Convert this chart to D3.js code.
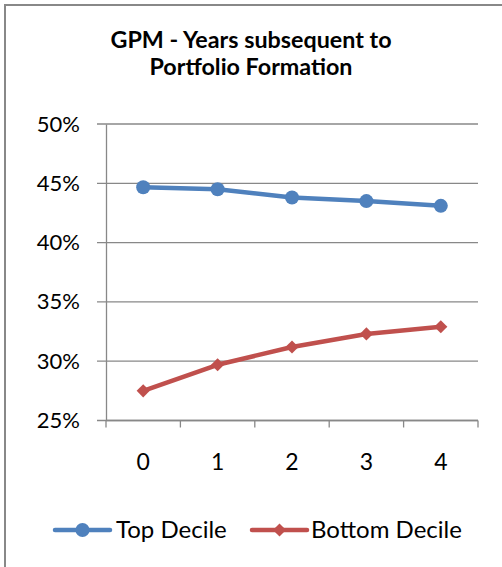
<!DOCTYPE html>
<html><head><meta charset="utf-8">
<script src="https://cdn.jsdelivr.net/npm/d3@7"></script>
<style>body{margin:0;background:#fff}svg{display:block}</style>
</head><body>
<svg id="c" width="502" height="567"></svg>
<script>
const categories = ["0","1","2","3","4"];
const topDecile = [0.4467, 0.4450, 0.4380, 0.4350, 0.4310];
const bottomDecile = [0.2750, 0.2970, 0.3120, 0.3230, 0.3290];
const yTicks = [0.25, 0.30, 0.35, 0.40, 0.45, 0.50];
const seriesNames = ["Top Decile", "Bottom Decile"];
const seriesColors = ["#4F81BD", "#C0504D"];
const titleLines = ["GPM - Years subsequent to", "Portfolio Formation"];

const svg = d3.select("#c");
const font = "Lato, 'Open Sans', sans-serif";

svg.append("rect").attr("x",5).attr("y",5).attr("width",520).attr("height",600)
  .attr("fill","#fff").attr("stroke","#888").attr("stroke-width",2);

const x = d3.scaleBand().domain(categories).range([106,478]);
const y = d3.scaleLinear().domain([0.25,0.50]).range([420.5,124]);

// title
svg.append("g").selectAll("text").data(titleLines).join("text")
  .attr("x",251).attr("y",(d,i)=>48+i*27).attr("text-anchor","middle")
  .attr("font-family",font).attr("font-weight","bold").attr("font-size",23.3)
  .attr("fill","#000").text(d=>d);

// gridlines
svg.append("g").selectAll("line").data(yTicks).join("line")
  .attr("x1",97).attr("x2",478).attr("y1",d=>y(d)).attr("y2",d=>y(d))
  .attr("stroke","#888").attr("stroke-width",1.3);

// y axis
const yAxis = d3.axisLeft(y).tickValues(yTicks).tickFormat(d3.format(".0%")).tickSize(0).tickPadding(26);
const gy = svg.append("g").attr("transform","translate(106,0)").call(yAxis);
gy.select(".domain").attr("stroke","#888").attr("stroke-width",1.3);
gy.selectAll("text").attr("font-family",font).attr("font-size",22).attr("fill","#000");

// x axis
const xAxis = d3.axisBottom(x).tickSize(0);
const gx = svg.append("g").attr("transform","translate(0,420.5)").call(xAxis);
gx.select(".domain").remove();
gx.selectAll("text").attr("y",49.5).attr("dy",0).attr("font-family",font).attr("font-size",23).attr("fill","#000");
const edges = categories.map(c=>x(c)).concat([x.range()[1]]);
gx.selectAll("line.edge").data(edges).join("line").attr("class","edge")
  .attr("x1",d=>d).attr("x2",d=>d).attr("y1",0).attr("y2",7)
  .attr("stroke","#888").attr("stroke-width",1.3);
gx.append("line").attr("x1",106).attr("x2",478).attr("y1",0).attr("y2",0)
  .attr("stroke","#888").attr("stroke-width",1.3);

const cx = d=>x(d)+x.bandwidth()/2;
const line = d3.line().x((d,i)=>cx(categories[i])).y(d=>y(d));

const data = [topDecile, bottomDecile];
data.forEach((s,k)=>{
  svg.append("path").datum(s).attr("d",line).attr("fill","none")
    .attr("stroke",seriesColors[k]).attr("stroke-width",4.5).attr("stroke-linejoin","round");
});
// markers
svg.append("g").selectAll("circle").data(topDecile).join("circle")
  .attr("cx",(d,i)=>cx(categories[i])).attr("cy",d=>y(d)).attr("r",7)
  .attr("fill",seriesColors[0]);
const diamond = d3.symbol().type(d3.symbolDiamond2).size(110);
svg.append("g").selectAll("path").data(bottomDecile).join("path")
  .attr("transform",(d,i)=>`translate(${cx(categories[i])},${y(d)})`)
  .attr("d",diamond).attr("fill",seriesColors[1]);

// legend
const leg = [{x0:55,x1:110,tx:116},{x0:252,x1:307,tx:311}];
leg.forEach((L,k)=>{
  const g = svg.append("g");
  g.append("line").attr("x1",L.x0).attr("x2",L.x1).attr("y1",530).attr("y2",530)
    .attr("stroke",seriesColors[k]).attr("stroke-width",4.5).attr("stroke-linecap","round");
  const m = (L.x0+L.x1)/2;
  if(k===0) g.append("circle").attr("cx",m).attr("cy",530).attr("r",7).attr("fill",seriesColors[0]);
  else g.append("path").attr("transform",`translate(${m},530)`).attr("d",diamond).attr("fill",seriesColors[1]);
  g.append("text").attr("x",L.tx).attr("y",538).attr("font-family",font).attr("font-size",24)
    .attr("fill","#000").text(seriesNames[k]);
});
</script>
</body></html>
